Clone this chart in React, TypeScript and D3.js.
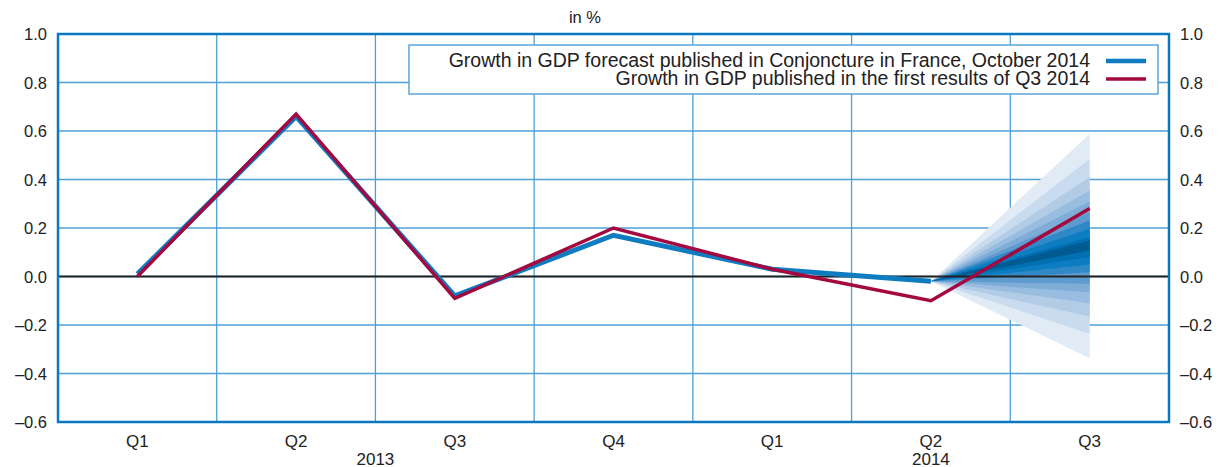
import React from "react";
import * as d3 from "d3";

const quarters = ["Q1", "Q2", "Q3", "Q4", "Q1", "Q2", "Q3"];
const years = [
  { label: "2013", from: 0, to: 3 },
  { label: "2014", from: 4, to: 6 },
];
const yTicks = [-0.6, -0.4, -0.2, 0.0, 0.2, 0.4, 0.6, 0.8, 1.0];
const forecast = [0.01, 0.66, -0.08, 0.17, 0.03, -0.02];
const firstResults = [0.0, 0.67, -0.09, 0.2, 0.03, -0.1, 0.28];
// fan at Q3 2014: outer → inner intervals
const fanLower = [-0.337, -0.236, -0.165, -0.11, -0.065, -0.03, 0.018, 0.05, 0.08, 0.107];
const fanUpper = [0.588, 0.485, 0.41, 0.355, 0.309, 0.265, 0.231, 0.197, 0.162, 0.148];
const fanColors = ["#e0ebf6", "#c9dbee", "#b2cce6", "#99bde0", "#7fadd8", "#5e9bcf", "#3088c6", "#0c7dc1", "#0070b1", "#005b93"];
const legendLabels = [
  "Growth in GDP forecast published in Conjoncture in France, October 2014",
  "Growth in GDP published in the first results of Q3 2014",
];

const W = 1219, H = 467;
const M = { left: 58, right: 1169, top: 34, bottom: 422 };
const FONT = "'Liberation Sans', Arial, Helvetica, sans-serif";
const BLUE = "#0f7bc1";
const RED = "#a3093f";
const GRID = "#4f9fd6";

export default function App() {
  const x = d3.scaleBand<number>().domain(d3.range(quarters.length)).range([M.left, M.right]).paddingInner(0).paddingOuter(0);
  const y = d3.scaleLinear().domain([-0.6, 1.0]).range([M.bottom, M.top]);
  const cx = (i: number) => (x(i) as number) + x.bandwidth() / 2;
  const line = d3.line<number>().x((_, i) => cx(i)).y((d) => y(d));
  const apexI = forecast.length - 1;
  const lastI = quarters.length - 1;
  const fmt = (v: number) => (v < 0 ? "\u2013" + Math.abs(v).toFixed(1) : v.toFixed(1));

  return (
    <svg width={W} height={H} style={{ position: "absolute", left: 0, top: 0, fontFamily: FONT }}>
      <rect x={0} y={0} width={W} height={H} fill="#fff" />
      {yTicks.map((t) => (
        <line key={"h" + t} x1={M.left} x2={M.right} y1={y(t)} y2={y(t)} stroke={GRID} strokeWidth={1.3} />
      ))}
      {d3.range(1, quarters.length).map((i) => (
        <line key={"v" + i} x1={x(i) as number} x2={x(i) as number} y1={M.top} y2={M.bottom} stroke={GRID} strokeWidth={1.3} />
      ))}
      {fanLower.map((lo, k) => (
        <path
          key={"fan" + k}
          d={`M${cx(apexI)},${y(forecast[apexI])}L${cx(lastI)},${y(fanUpper[k])}L${cx(lastI)},${y(lo)}Z`}
          fill={fanColors[k]}
        />
      ))}
      <line x1={M.left} x2={M.right} y1={y(0)} y2={y(0)} stroke="#222" strokeWidth={2} />
      <path d={line(forecast) || ""} fill="none" stroke={BLUE} strokeWidth={5} strokeLinejoin="miter" />
      <path d={line(firstResults) || ""} fill="none" stroke={RED} strokeWidth={3.5} strokeLinejoin="miter" />
      <rect x={M.left} y={M.top} width={M.right - M.left} height={M.bottom - M.top} fill="none" stroke="#0a77be" strokeWidth={2.5} />
      <rect x={409} y={45} width={749} height={49} fill="#fff" stroke="#5aa5d8" strokeWidth={1.5} />
      {legendLabels.map((lab, i) => (
        <g key={"lg" + i}>
          <text x={1090} y={67 + i * 18} textAnchor="end" fontSize={19.5} fill="#222">{lab}</text>
          <line x1={1106} x2={1146} y1={61 + i * 18} y2={61 + i * 18} stroke={i === 0 ? BLUE : RED} strokeWidth={i === 0 ? 4.5 : 3.5} />
        </g>
      ))}
      {yTicks.map((t) => (
        <g key={"yl" + t}>
          <text x={47} y={y(t) + 6} textAnchor="end" fontSize={16.5} fill="#222">{fmt(t)}</text>
          <text x={1180} y={y(t) + 6} textAnchor="start" fontSize={16.5} fill="#222">{fmt(t)}</text>
        </g>
      ))}
      {quarters.map((q, i) => (
        <text key={"q" + i} x={cx(i)} y={447} textAnchor="middle" fontSize={17} fill="#222">{q}</text>
      ))}
      {years.map((yr) => (
        <text key={yr.label} x={(cx(yr.from) + cx(yr.to)) / 2} y={465} textAnchor="middle" fontSize={17} fill="#222">{yr.label}</text>
      ))}
      <text x={585} y={23} textAnchor="middle" fontSize={16.5} fill="#222">in %</text>
    </svg>
  );
}
